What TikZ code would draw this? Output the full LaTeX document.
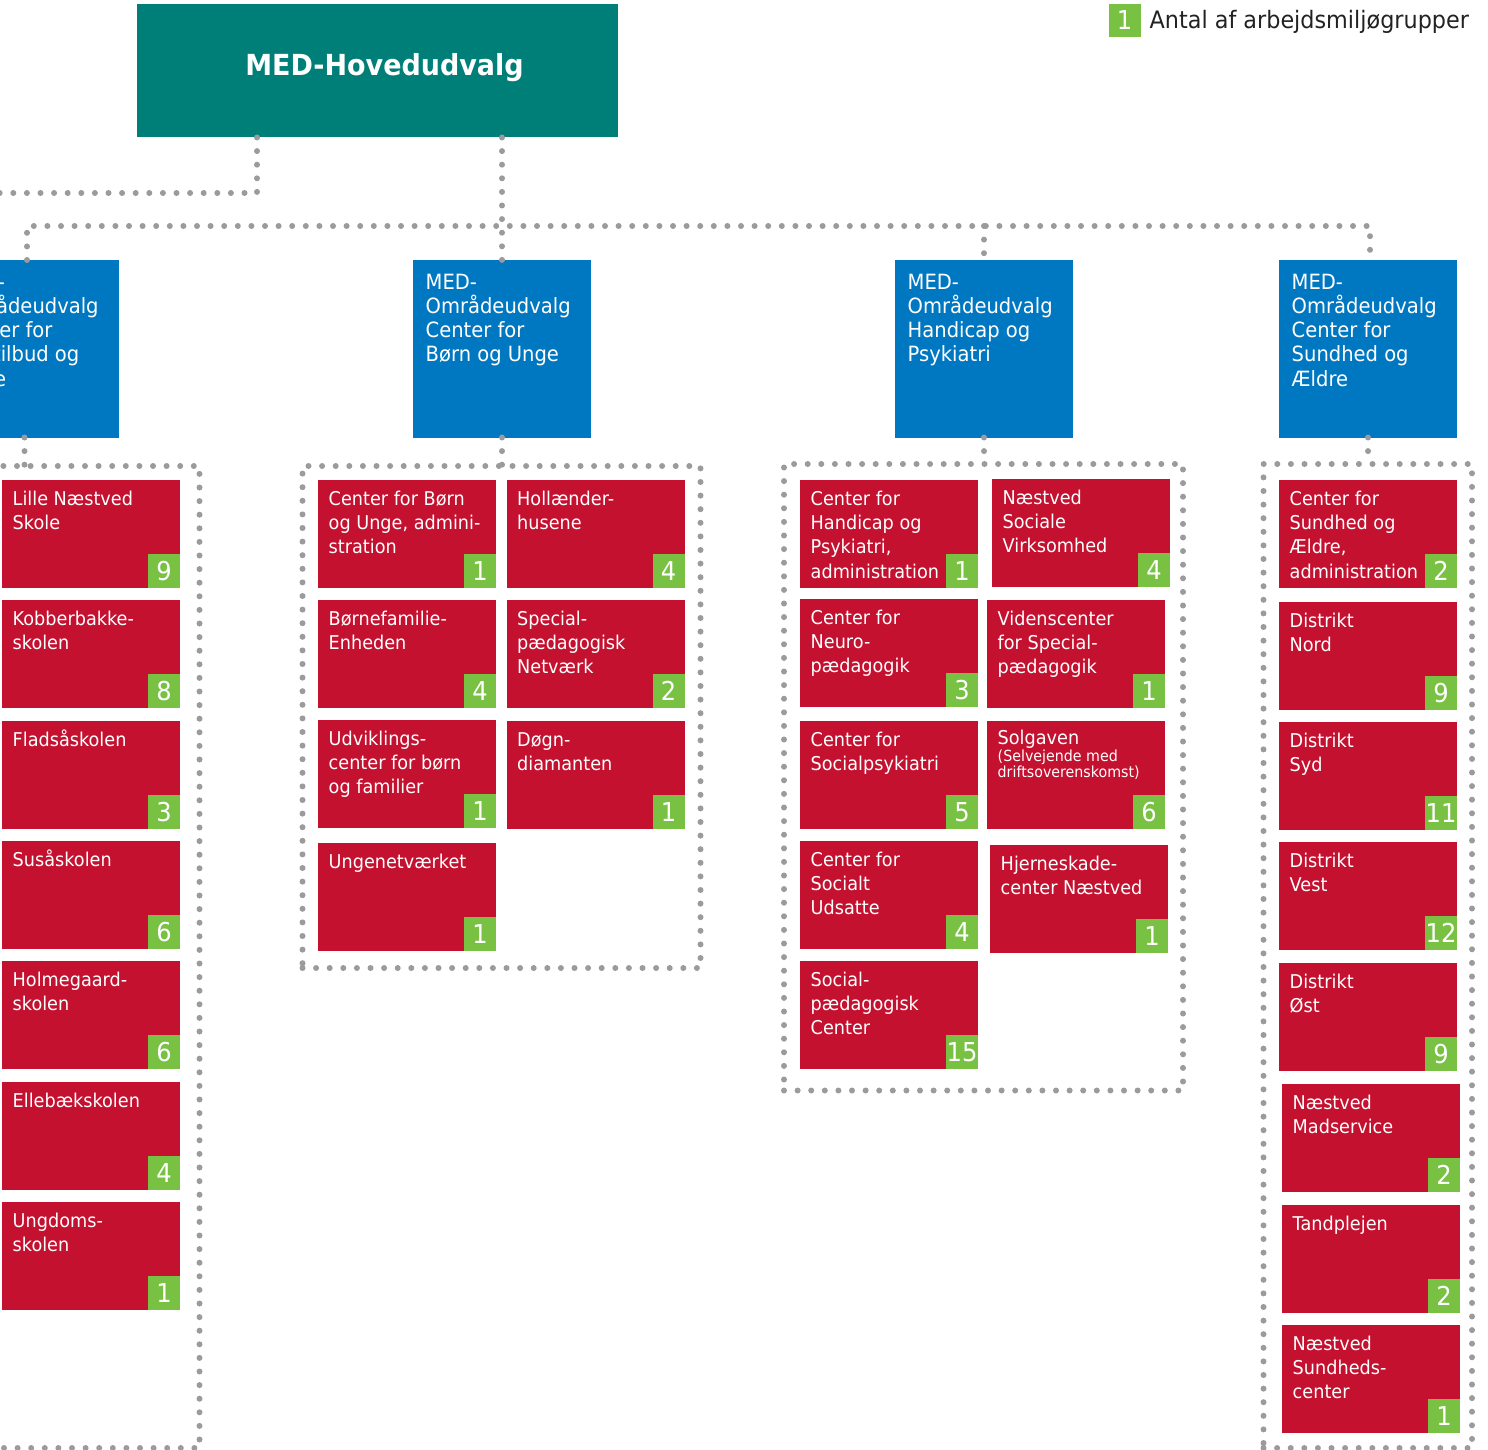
\documentclass[tikz,border=0pt]{standalone}
\usepackage{fontspec}
\setmainfont{DejaVu Sans}[FakeStretch=0.93]
\definecolor{cred}{HTML}{C3112F}
\definecolor{cgreen}{HTML}{79C143}
\definecolor{cblue}{HTML}{0078C1}
\definecolor{cteal}{HTML}{007F78}
\definecolor{cdot}{HTML}{9B9B9E}
\definecolor{ctext}{HTML}{222222}
\tikzset{
  conn/.style={draw=cdot, line width=6pt, line cap=round, dash pattern=on 0pt off 13.6pt},
  framebox/.style={conn, anchor=north west, inner sep=0pt, outer sep=0pt},
  redbox/.style={fill=cred, anchor=north west, minimum width=178pt, minimum height=108pt, inner sep=0pt, outer sep=0pt},
  bluebox/.style={fill=cblue, anchor=north west, minimum width=178pt, minimum height=177.5pt, inner sep=0pt, outer sep=0pt},
  redtext/.style={anchor=base west, inner sep=0pt, text=white, font=\fontsize{19}{24.4}\selectfont},
  bluetext/.style={anchor=base west, inner sep=0pt, text=white, font=\fontsize{21}{24.3}\selectfont},
  smalltext/.style={anchor=base west, inner sep=0pt, text=white, font=\fontsize{15.3}{16.3}\selectfont},
  badge/.style={fill=cgreen, anchor=south east, minimum width=32pt, minimum height=34pt, inner sep=0pt, outer sep=0pt, text=white, font=\fontsize{26}{26}\selectfont},
}
\newcommand{\orgbox}[5]{%
  \node[redbox] (#1) at (#2,#3) {};
  \node[redtext] (#1-t) at ([xshift=10.5pt,yshift=-25pt]#1.north west) {\parbox[t]{220pt}{\raggedright #4}};
  \node[badge] (#1-n) at (#1.south east) {#5};
}
\begin{document}
\begin{tikzpicture}[x=1pt,y=-1pt]
\useasboundingbox (0,0) rectangle (1488,1450);
\clip (0,0) rectangle (1488,1450);

% ---- nodes: top and area boxes
\node[fill=cteal, anchor=north west, minimum width=481pt, minimum height=133.5pt, inner sep=0pt, outer sep=0pt] (hoved) at (137,4) {};
\node[anchor=base, inner sep=0pt, text=white, font=\fontsize{29}{29}\selectfont\bfseries] (hoved-t) at (384.5,76) {MED-Hovedudvalg};

\node[bluebox] (b1) at (-59,260) {};
\node[bluetext] (b1-t) at ([xshift=12.5pt,yshift=-29pt]b1.north west) {\parbox[t]{220pt}{\raggedright MED-\\Områdeudvalg\\Center for\\Dagtilbud og\\Skole}};
\node[bluebox] (b2) at (413,260) {};
\node[bluetext] (b2-t) at ([xshift=12.5pt,yshift=-29pt]b2.north west) {\parbox[t]{220pt}{\raggedright MED-\\Områdeudvalg\\Center for\\Børn og Unge}};
\node[bluebox] (b3) at (895,260) {};
\node[bluetext] (b3-t) at ([xshift=12.5pt,yshift=-29pt]b3.north west) {\parbox[t]{220pt}{\raggedright MED-\\Områdeudvalg\\Handicap og\\Psykiatri}};
\node[bluebox] (b4) at (1279,260) {};
\node[bluetext] (b4-t) at ([xshift=12.5pt,yshift=-29pt]b4.north west) {\parbox[t]{220pt}{\raggedright MED-\\Områdeudvalg\\Center for\\Sundhed og\\Ældre}};

% ---- dotted frames
\node[framebox, minimum width=399.5pt, minimum height=982pt] (f1) at (-200,466) {};
\node[framebox, minimum width=398pt, minimum height=502pt] (f2) at (302.5,466) {};
\node[framebox, minimum width=399pt, minimum height=626.5pt] (f3) at (784,464) {};
\node[framebox, minimum width=208.5pt, minimum height=984pt] (f4) at (1263.5,464) {};

% ---- connectors
\coordinate (dA) at (257,193);
\coordinate (dAend) at (-12,193);
\coordinate (busL) at (27,226);
\coordinate (busR) at (1370,226);
\coordinate (d1) at (24.5,0);
\draw[conn] (hoved.south -| dA) -- (dA) -- (dAend);
\draw[conn] (hoved.south -| b2.north) -- (b2.north);
\draw[conn] (busL |- b1.north) -- (busL) -- (busR) -- (busR |- b4.north);
\draw[conn] (b3.north |- busL) -- (b3.north);
\draw[conn] (b1.south -| d1) -- (f1.north -| d1);
\draw[conn] (b2.south) -- (b2.south |- f2.north);
\draw[conn] (b3.south) -- (b3.south |- f3.north);
\draw[conn] (b4.south) -- (b4.south |- f4.north);

% ---- column 1
\orgbox{c1a}{2}{480}{Lille Næstved\\Skole}{9}
\orgbox{c1b}{2}{600}{Kobberbakke-\\skolen}{8}
\orgbox{c1c}{2}{721}{Fladsåskolen}{3}
\orgbox{c1d}{2}{841}{Susåskolen}{6}
\orgbox{c1e}{2}{961}{Holmegaard-\\skolen}{6}
\orgbox{c1f}{2}{1082}{Ellebækskolen}{4}
\orgbox{c1g}{2}{1202}{Ungdoms-\\skolen}{1}

% ---- column 2
\orgbox{c2a}{318}{480}{Center for Børn\\og Unge, admini-\\stration}{1}
\orgbox{c2b}{506.5}{480}{Hollænder-\\husene}{4}
\orgbox{c2c}{318}{600}{Børnefamilie-\\Enheden}{4}
\orgbox{c2d}{506.5}{600}{Special-\\pædagogisk\\Netværk}{2}
\orgbox{c2e}{318}{720}{Udviklings-\\center for børn\\og familier}{1}
\orgbox{c2f}{506.5}{721}{Døgn-\\diamanten}{1}
\orgbox{c2g}{318}{843}{Ungenetværket}{1}

% ---- column 3
\orgbox{c3a}{800}{480}{Center for\\Handicap og\\Psykiatri,\\administration}{1}
\orgbox{c3b}{992}{479}{Næstved\\Sociale\\Virksomhed}{4}
\orgbox{c3c}{800}{599}{Center for\\Neuro-\\pædagogik}{3}
\orgbox{c3d}{987}{600}{Videnscenter\\for Special-\\pædagogik}{1}
\orgbox{c3e}{800}{721}{Center for\\Socialpsykiatri}{5}
\node[redbox] (c3f) at (987,721) {};
\node[redtext] (c3f-t) at ([xshift=10.5pt,yshift=-23pt]c3f.north west) {Solgaven};
\node[smalltext] (c3f-s) at ([xshift=10.5pt,yshift=-40.5pt]c3f.north west) {\parbox[t]{220pt}{\raggedright (Selvejende med\\driftsoverenskomst)}};
\node[badge] (c3f-n) at (c3f.south east) {6};
\orgbox{c3g}{800}{841}{Center for\\Socialt\\Udsatte}{4}
\orgbox{c3h}{990}{845}{Hjerneskade-\\center Næstved}{1}
\orgbox{c3i}{800}{961}{Social-\\pædagogisk\\Center}{15}

% ---- column 4
\orgbox{c4a}{1279}{480}{Center for\\Sundhed og\\Ældre,\\administration}{2}
\orgbox{c4b}{1279}{602}{Distrikt\\Nord}{9}
\orgbox{c4c}{1279}{722}{Distrikt\\Syd}{11}
\orgbox{c4d}{1279}{842}{Distrikt\\Vest}{12}
\orgbox{c4e}{1279}{963}{Distrikt\\Øst}{9}
\orgbox{c4f}{1282}{1084}{Næstved\\Madservice}{2}
\orgbox{c4g}{1282}{1205}{Tandplejen}{2}
\orgbox{c4h}{1282}{1325}{Næstved\\Sundheds-\\center}{1}

% ---- legend
\node[badge, anchor=north west, minimum height=33pt] (leg-n) at (1108.5,4) {1};
\node[anchor=base west, inner sep=0pt, text=ctext, font=\fontsize{24}{24}\selectfont] (leg-t) at (1149.5,28.5) {Antal af arbejdsmiljøgrupper};
\end{tikzpicture}
\end{document}
